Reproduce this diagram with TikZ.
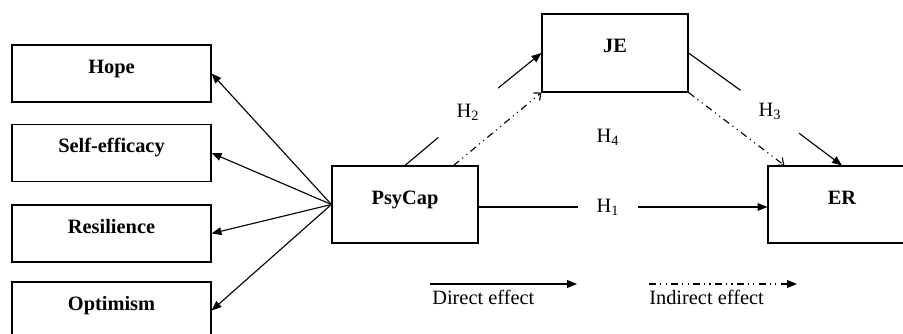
\documentclass[tikz,border=0pt]{standalone}
\usepackage{fontspec}
\setmainfont{Liberation Serif}
\usetikzlibrary{arrows.meta,calc,positioning}
\newcommand{\figfont}{\fontsize{14.5}{17}\selectfont}
\tikzset{
  box/.style={draw,line width=.8pt,text height=1.6ex,text depth=1.6ex,font=\figfont\bfseries},
  dim/.style={box,minimum width=4.975cm,minimum height=1.425cm},
  gap/.style={circle,inner sep=0pt},
  plain/.style={line width=.8pt},
  direct/.style={line width=.8pt,-{Triangle[length=7pt,width=5.5pt]}},
  indirect/.style={line width=.8pt,dash pattern=on 5pt off 3pt on .8pt off 3pt on .8pt off 3pt,-{Straight Barb[length=4pt,width=7pt]}},
  legend/.style={anchor=base west,inner sep=0pt},
}

\begin{document}
\begin{tikzpicture}[x=0.025cm,y=-0.025cm,font=\figfont]
  \useasboundingbox (0,0) rectangle (903,334);
  % dimensions of psychological capital
  \foreach \name/\y/\lab in {hope/73.5/Hope,self/153/Self-efficacy,res/233.5/Resilience,opt/310.5/Optimism} {
    \node[dim] (\name) at (111.5,\y) {\lab};
  }
  \node[box,minimum width=3.65cm,minimum height=1.925cm] (psycap) at (405,204.5) {PsyCap};
  \node[box,minimum width=3.65cm,minimum height=1.95cm] (je) at (615,53) {JE};
  \node[box,minimum width=3.7cm,minimum height=1.925cm] (er) at (842,204.5) {ER};
  \foreach \name in {hope,self,res,opt} {
    \draw[direct] (psycap.west) -- (\name.east);
  }
  % hypotheses
  \node[gap,minimum size=1.5cm] (h1) at (608,207) {H\textsubscript{1}};
  \node[gap,minimum size=1.925cm] (h2) at (468,112.5) {H\textsubscript{2}};
  \node[gap,minimum size=1.8cm] (h3) at (770,111.5) {H\textsubscript{3}};
  \node (h4) at (608,137) {H\textsubscript{4}};
  \draw[plain] (psycap.east|-h1) -- (h1);
  \draw[direct] (h1) -- (er.west|-h1);
  \draw[plain] (psycap.north) -- (h2);
  \draw[direct] (h2) -- (je.west);
  \draw[plain] (je.east) -- (h3);
  \draw[direct] (h3) -- (er.north);
  \draw[indirect] ($(psycap.north east)+(-25,0)$) -- (je.south west);
  \draw[indirect] (je.south east) -- ($(er.north west)+(17,0)$);
  % legend
  \coordinate (d1) at (430,284);
  \coordinate (d2) at (577,284);
  \coordinate (i1) at (649,284);
  \coordinate (i2) at (797,284);
  \draw[direct] (d1) -- (d2);
  \draw[indirect,-{Triangle[length=7pt,width=5.5pt]}] (i1) -- (i2);
  \node[legend] (dlab) at (432,305) {Direct effect};
  \node[legend] (ilab) at (649,305) {Indirect effect};
\end{tikzpicture}
\end{document}
